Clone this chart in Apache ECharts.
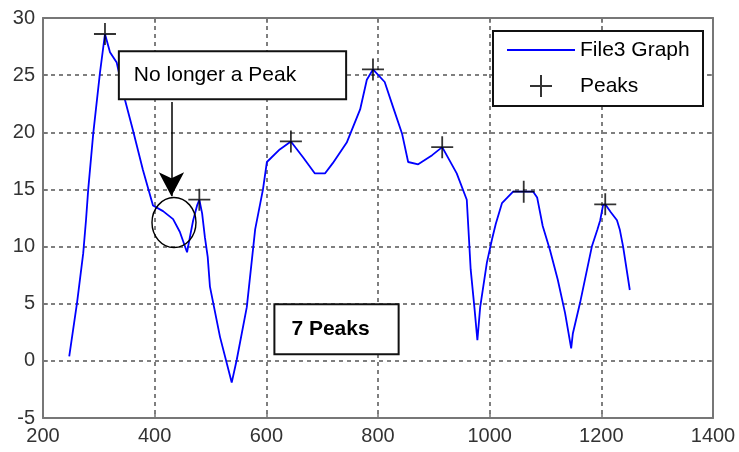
<!DOCTYPE html>
<html>
<head>
<meta charset="utf-8">
<script src="https://cdn.jsdelivr.net/npm/echarts@6/dist/echarts.min.js"></script>
<style>
html,body{margin:0;padding:0;background:#fff;}
#chart{width:739px;height:452px;}
</style>
</head>
<body>
<div id="chart"></div>
<script>
// ---- data ----
const graphX = [247,261,272,277,281,290,302,311,320,332,347,361,379,397,415,433,445,458,463,469,476,480,485,490,495,499,517,538,547,565,580,594,601,624,644,666,687,705,719,744,768,780,791,812,827,843,854,872,897,915,941,959,962,966,973,978,983,995,1004,1011,1022,1042,1061,1078,1085,1095,1108,1122,1135,1146,1149,1162,1183,1193,1198,1203,1207,1217,1228,1233,1239,1251];
const graphY = [0.4,5.1,9.4,12.3,15.0,19.9,25.2,28.6,27.0,26.1,22.8,20.2,16.7,13.6,13.1,12.4,11.3,9.5,10.8,12.3,13.6,14.1,12.9,10.8,9.1,6.5,2.1,-1.9,0.1,4.7,11.5,15.0,17.4,18.5,19.2,17.8,16.4,16.4,17.3,19.1,22.0,24.6,25.5,24.4,22.2,19.9,17.4,17.2,18.0,18.7,16.4,14.1,11.5,8.0,4.5,1.8,4.7,8.6,10.6,12.0,13.8,14.8,14.8,14.8,14.3,11.8,9.7,7.1,4.2,1.1,2.4,5.1,10.0,11.5,12.3,13.6,13.7,13.0,12.3,11.5,10.0,6.2];
const peakX = [311,480,644,791,915,1061,1207];
const peakY = [28.6,14.1,19.2,25.5,18.7,14.8,13.7];
const xTicks = {min:200, max:1400, step:200};
const yTicks = {min:-5, max:30, step:5};
const seriesNames = ['File3 Graph','Peaks'];
const noteText = 'No longer a Peak';
const noteAt = [539.4, 25.0];
const arrowFrom = [430, 22.66];
const arrowTo = [430, 14.4];
const circleAt = [434.6, 12.1];
const countText = '7 Peaks';
const countAt = [725.7, 2.76];
// --------------------------------------

const FONT = '"Liberation Sans", Arial, sans-serif';
const frameColor = '#777';
const crossPath = 'path://M0,11L22,11M11,0L11,22';
const linePath = 'path://M0,0H68V1.8H0Z';

const chart = echarts.init(document.getElementById('chart'), null, {renderer:'canvas'});

const axisCommon = {
  axisLine:{show:true, onZero:false, lineStyle:{color:frameColor, width:2}},
  axisTick:{show:true, inside:true, length:5, lineStyle:{color:frameColor, width:1.5}},
};
const plain = v => String(v);

chart.setOption({
  animation:false,
  backgroundColor:'#fff',
  grid:{left:43, right:26, top:18, bottom:34, containLabel:false},
  xAxis:[
    Object.assign({type:'value', min:xTicks.min, max:xTicks.max, interval:xTicks.step, position:'bottom',
      axisLabel:{color:'#333', fontSize:20, fontFamily:FONT, margin:8, formatter:plain, showMinLabel:true, showMaxLabel:true},
      splitLine:{show:true, lineStyle:{color:'#555', width:1.5, type:[4,4]}}}, axisCommon),
    Object.assign({type:'value', min:xTicks.min, max:xTicks.max, interval:xTicks.step, position:'top',
      axisLabel:{show:false}, splitLine:{show:false}}, axisCommon)
  ],
  yAxis:[
    Object.assign({type:'value', min:yTicks.min, max:yTicks.max, interval:yTicks.step, position:'left',
      axisLabel:{color:'#333', fontSize:20, fontFamily:FONT, margin:8, formatter:plain, showMinLabel:true, showMaxLabel:true},
      splitLine:{show:true, lineStyle:{color:'#555', width:1.5, type:[4,4]}}}, axisCommon),
    Object.assign({type:'value', min:yTicks.min, max:yTicks.max, interval:yTicks.step, position:'right',
      axisLabel:{show:false}, splitLine:{show:false}}, axisCommon)
  ],
  legend:{
    orient:'vertical', left:493, top:31,
    backgroundColor:'#fff', borderColor:'#111', borderWidth:2,
    padding:[8,9,8,14], itemGap:13, itemWidth:68, itemHeight:22,
    align:'left',
    textStyle:{color:'#000', fontSize:21, fontFamily:FONT, lineHeight:22, width:114},
    data:[
      {name:seriesNames[0], icon:linePath, itemStyle:{color:'#0000ff', borderWidth:0}},
      {name:seriesNames[1], icon:crossPath}
    ]
  },
  series:[
    {
      name:seriesNames[0], type:'line', xAxisIndex:0, yAxisIndex:0,
      data:graphX.map((x,i)=>[x, graphY[i]]),
      showSymbol:false, symbol:'none', smooth:false,
      lineStyle:{color:'#0000ff', width:1.8},
      itemStyle:{color:'#0000ff'},
      z:3,
      markLine:{
        silent:true, animation:false,
        symbol:['none','arrow'], symbolSize:[19,24],
        label:{show:false},
        lineStyle:{color:'#000', width:1.5, type:'solid'},
        data:[[{coord:arrowFrom}, {coord:arrowTo}]]
      },
      markPoint:{
        silent:true, animation:false,
        data:[
          {coord:circleAt, symbol:'circle', symbolSize:[44,50],
            itemStyle:{color:'rgba(0,0,0,0)', borderColor:'#000', borderWidth:1.5},
            label:{show:false}},
          {coord:noteAt, symbol:'rect', symbolSize:1, itemStyle:{color:'rgba(0,0,0,0)'},
            label:{show:true, position:'inside', formatter:noteText, color:'#000',
              fontSize:21, fontFamily:FONT, lineHeight:22,
              backgroundColor:'#fff', borderColor:'#111', borderWidth:2, padding:[12,49,12,14]}},
          {coord:countAt, symbol:'rect', symbolSize:1, itemStyle:{color:'rgba(0,0,0,0)'},
            label:{show:true, position:'inside', formatter:countText, color:'#000',
              fontSize:21, fontWeight:'bold', fontFamily:FONT, lineHeight:22,
              backgroundColor:'#fff', borderColor:'#111', borderWidth:2, padding:[13,28,13,16]}}
        ]
      }
    },
    {
      name:seriesNames[1], type:'scatter', xAxisIndex:0, yAxisIndex:0,
      data:peakX.map((x,i)=>[x, peakY[i]]),
      symbol:crossPath, symbolSize:22,
      itemStyle:{color:'rgba(0,0,0,0)', borderColor:'#000', borderWidth:1.8},
      z:4
    }
  ]
});
</script>
</body>
</html>
